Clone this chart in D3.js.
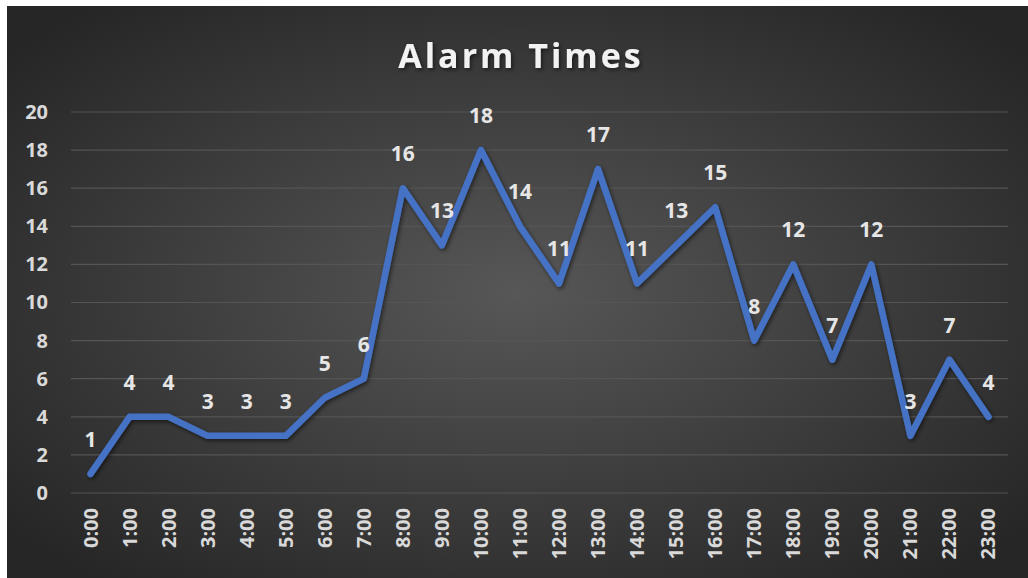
<!DOCTYPE html>
<html>
<head>
<meta charset="utf-8">
<script src="https://cdn.jsdelivr.net/npm/d3@7"></script>
<style>
  html, body { margin: 0; padding: 0; background: #fff; }
  svg { display: block; }
</style>
</head>
<body>
<svg id="chart" width="1028" height="578"></svg>
<script>
// chart data
const hours = ["0:00","1:00","2:00","3:00","4:00","5:00","6:00","7:00","8:00","9:00","10:00","11:00",
  "12:00","13:00","14:00","15:00","16:00","17:00","18:00","19:00","20:00","21:00","22:00","23:00"];
const alarms = [1,4,4,3,3,3,5,6,16,13,18,14,11,17,11,13,15,8,12,7,12,3,7,4];
const yTicks = [0,2,4,6,8,10,12,14,16,18,20];

const width = 1028, height = 578;
const margin = {top: 112, right: 20, bottom: 85, left: 71};
const plotRight = 1008;

const svg = d3.select("#chart");
const defs = svg.append("defs");

// background gradient, lighter in the middle
const grad = defs.append("radialGradient")
  .attr("id", "bg")
  .attr("cx", "50%").attr("cy", "50%").attr("r", "65%");
grad.append("stop").attr("offset", "0%").attr("stop-color", "#575757");
grad.append("stop").attr("offset", "100%").attr("stop-color", "#262626");

const shadow = defs.append("filter").attr("id", "shadow")
  .attr("x", "-10%").attr("y", "-10%").attr("width", "120%").attr("height", "120%");
shadow.append("feDropShadow")
  .attr("dx", 1.5).attr("dy", 2).attr("stdDeviation", 2)
  .attr("flood-color", "#000").attr("flood-opacity", 0.55);

svg.append("rect")
  .attr("x", 7).attr("y", 6)
  .attr("width", width - 7).attr("height", height - 6)
  .attr("fill", "url(#bg)");

// scales
const x = d3.scaleBand()
  .domain(hours)
  .range([margin.left, plotRight]);

const y = d3.scaleLinear()
  .domain([0, 20])
  .range([493, margin.top]);

// grid lines
svg.append("g")
  .selectAll("line")
  .data(yTicks)
  .join("line")
  .attr("x1", margin.left).attr("x2", plotRight)
  .attr("y1", d => y(d)).attr("y2", d => y(d))
  .attr("stroke", "#555")
  .attr("stroke-width", 1.2);

// y axis
const yAxis = g => g
  .attr("transform", "translate(" + margin.left + ", 0)")
  .call(d3.axisLeft(y).tickValues(yTicks).tickSize(0).tickPadding(23))
  .call(g => g.select(".domain").remove())
  .call(g => g.selectAll("text")
    .attr("fill", "#d9d9d9")
    .attr("font-family", "Open Sans, sans-serif")
    .attr("font-weight", "bold")
    .attr("font-size", 20));
svg.append("g").call(yAxis);

// x axis, labels rotated
const xAxis = g => g
  .attr("transform", "translate(0, 493)")
  .call(d3.axisBottom(x).tickSize(0).tickPadding(0))
  .call(g => g.select(".domain").remove())
  .call(g => g.selectAll("text")
    .attr("fill", "#d9d9d9")
    .attr("font-family", "Open Sans, sans-serif")
    .attr("font-weight", "bold")
    .attr("font-size", 20)
    .attr("text-anchor", "end")
    .attr("dy", "0.35em")
    .attr("transform", "translate(0, 15) rotate(-90)")
    .attr("x", 0).attr("y", 0));
svg.append("g").call(xAxis);

// line
const cx = d => x(d) + x.bandwidth() / 2;
const line = d3.line()
  .x((d, i) => cx(hours[i]))
  .y(d => y(d));

svg.append("path")
  .datum(alarms)
  .attr("d", line)
  .attr("fill", "none")
  .attr("stroke", "#4472c4")
  .attr("stroke-width", 6.5)
  .attr("stroke-linejoin", "round")
  .attr("stroke-linecap", "round")
  .attr("filter", "url(#shadow)");

// data labels
svg.append("g")
  .selectAll("text")
  .data(alarms)
  .join("text")
  .attr("x", (d, i) => cx(hours[i]))
  .attr("y", d => y(d) - 27)
  .attr("text-anchor", "middle")
  .attr("fill", "#e6e6e6")
  .attr("font-family", "Open Sans, sans-serif")
  .attr("font-weight", "bold")
  .attr("font-size", 21)
  .text(d => d);

// title
svg.append("text")
  .attr("x", 521)
  .attr("y", 68)
  .attr("text-anchor", "middle")
  .attr("fill", "#f2f2f2")
  .attr("font-family", "Open Sans, sans-serif")
  .attr("font-weight", "bold")
  .attr("font-size", 34)
  .attr("letter-spacing", 3)
  .attr("filter", "url(#shadow)")
  .text("Alarm Times");
</script>
</body>
</html>
